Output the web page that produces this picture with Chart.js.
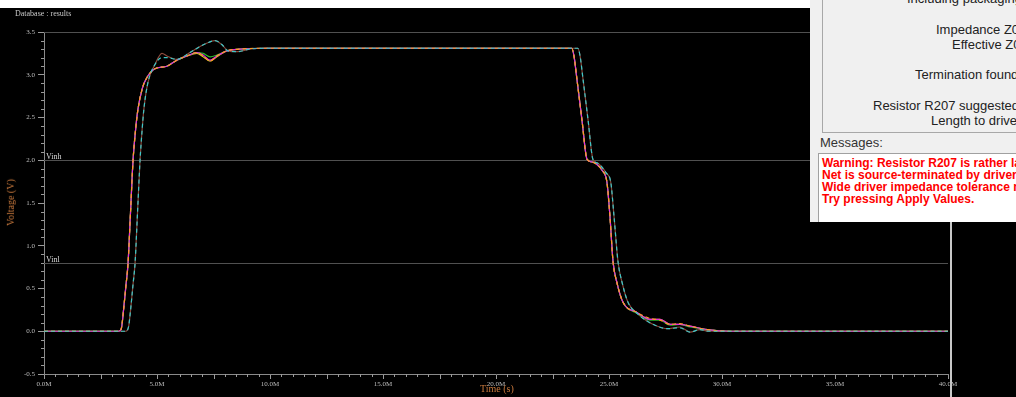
<!DOCTYPE html>
<html>
<head>
<meta charset="utf-8">
<script src="https://cdn.jsdelivr.net/npm/chart.js@4.4.1/dist/chart.umd.min.js"></script>
<style>
  body { margin: 0; background: #000; width: 1016px; height: 397px; overflow: hidden; position: relative; }
  #chart { position: absolute; left: 0; top: 0; }
  .abs { position: absolute; white-space: nowrap; }
  #strip { left: 0; top: 0; width: 810px; height: 8px; background: #fff; }
  #frame { left: 950px; top: 0; width: 2px; height: 397px; background: #c8c8c8; }
  #db { left: 15px; top: 9px; font: 8px "Liberation Serif", serif; color: #c8c8c8; }
  #ttl-x { left: 480px; top: 383px; font: 10px "Liberation Serif", serif; color: #c8783c; }
  #ttl-y { left: -13px; top: 197px; font: 10px "Liberation Serif", serif; color: #c8783c; transform: rotate(-90deg); }
  #dlg { left: 810px; top: 0; width: 206px; height: 222px; background: #f0f0f0; overflow: hidden; font-family: "Liberation Sans", Arial, sans-serif; }
  #grp { left: 12px; top: -10px; width: 220px; height: 141px; border: 1px solid #a8a8a8; }
  .t { position: absolute; white-space: nowrap; font-size: 13px; line-height: 15px; color: #222; }
  #msgbox { left: 8px; top: 153px; width: 220px; height: 80px; background: #fff; border-left: 1px solid #a0a0a0; border-top: 1px solid #a0a0a0; }
  .r { position: absolute; left: 3px; white-space: nowrap; font-size: 12px; line-height: 12px; font-weight: bold; color: #ff0000; }
</style>
</head>
<body>
<div class="abs" id="frame"></div>
<canvas id="chart" width="1016" height="397"></canvas>
<div class="abs" id="strip"></div>
<div class="abs" id="db">Database : results</div>
<div class="abs" id="ttl-x">Time (s)</div>
<div class="abs" id="ttl-y">Voltage (V)</div>
<div class="abs" id="dlg">
  <div class="abs" id="grp"></div>
  <div class="t" style="left:97px; top:-9px;">Including packaging</div>
  <div class="t" style="left:126px; top:22px;">Impedance Z0</div>
  <div class="t" style="left:142px; top:37px;">Effective Z0</div>
  <div class="t" style="left:105px; top:67px;">Termination found</div>
  <div class="t" style="left:63px; top:98px;">Resistor R207 suggested</div>
  <div class="t" style="left:121px; top:113px;">Length to driver</div>
  <div class="t" style="left:10px; top:135px; color:#333;">Messages:</div>
  <div class="abs" id="msgbox">
    <div class="r" style="top:3px;">Warning: Resistor R207 is rather large</div>
    <div class="r" style="top:15px;">Net is source-terminated by driver impedance</div>
    <div class="r" style="top:27px;">Wide driver impedance tolerance may</div>
    <div class="r" style="top:39px;">Try pressing Apply Values.</div>
  </div>
</div>

<script>
// tiempos (M) del grupo que conmuta primero
const earlyTime = [0, 3.30, 3.42, 3.52, 3.62, 3.72, 3.83, 3.94, 4.05, 4.16, 4.36, 4.56, 4.91, 5.44, 5.88, 6.33, 6.77, 7.04, 7.35, 7.65, 8.10, 8.67, 9.87, 12,
  23.35, 23.45, 23.58, 23.80, 24.03, 24.25, 24.47, 24.70, 24.91, 25.04, 25.18, 25.35, 25.62, 26.24, 26.81, 27.26, 27.70, 28.14, 28.58, 29.34, 30.35, 40];
const magentaV = [0, 0, 0.03, 0.25, 0.52, 0.8, 1.4, 2.0, 2.35, 2.6, 2.85, 2.97, 3.07, 3.10, 3.17, 3.22, 3.26, 3.23, 3.17, 3.22, 3.28, 3.30, 3.31, 3.31,
  3.31, 3.22, 2.95, 2.48, 2.01, 1.98, 1.95, 1.88, 1.74, 1.35, 0.81, 0.57, 0.34, 0.22, 0.14, 0.14, 0.08, 0.08, 0.06, 0.02, 0, 0];
const orangeV = [0, 0, 0.03, 0.25, 0.52, 0.8, 1.4, 2.0, 2.35, 2.6, 2.85, 2.97, 3.07, 3.10, 3.17, 3.22, 3.26, 3.22, 3.16, 3.22, 3.28, 3.30, 3.31, 3.31,
  3.31, 3.22, 2.95, 2.48, 2.01, 1.98, 1.95, 1.88, 1.74, 1.35, 0.81, 0.57, 0.34, 0.22, 0.15, 0.13, 0.08, 0.09, 0.06, 0.02, 0, 0];
const greenV = [0, 0, 0.03, 0.25, 0.52, 0.8, 1.4, 2.0, 2.35, 2.6, 2.85, 2.97, 3.07, 3.10, 3.17, 3.22, 3.26, 3.25, 3.21, 3.23, 3.28, 3.30, 3.31, 3.31,
  3.31, 3.22, 2.95, 2.48, 2.01, 1.98, 1.95, 1.88, 1.74, 1.35, 0.81, 0.57, 0.34, 0.21, 0.13, 0.13, 0.07, 0.08, 0.05, 0.02, 0, 0];
const yellowV = [0, 0, 0.03, 0.25, 0.52, 0.8, 1.4, 2.0, 2.35, 2.6, 2.85, 2.97, 3.07, 3.10, 3.17, 3.22, 3.25, 3.21, 3.16, 3.21, 3.28, 3.30, 3.31, 3.31,
  3.31, 3.22, 2.95, 2.48, 2.01, 1.98, 1.95, 1.88, 1.74, 1.35, 0.81, 0.57, 0.34, 0.22, 0.14, 0.14, 0.08, 0.08, 0.06, 0.02, 0, 0];

// tiempos (M) del grupo retrasado
const lateTime = [0, 3.62, 3.74, 3.85, 3.94, 4.03, 4.14, 4.25, 4.34, 4.42, 4.60, 4.91, 5.22, 5.44, 5.88, 6.46, 6.90, 7.30, 7.57, 7.88, 8.14, 8.54, 9.10, 9.87, 12,
  23.62, 23.72, 23.85, 24.07, 24.29, 24.47, 24.65, 24.88, 25.08, 25.22, 25.40, 25.58, 25.84, 26.28, 26.68, 27.04, 27.57, 28.14, 28.58, 29.03, 29.40, 40];
const brownV = [0, 0, 0.05, 0.3, 0.55, 0.8, 1.4, 2.0, 2.35, 2.6, 2.91, 3.12, 3.25, 3.22, 3.18, 3.26, 3.33, 3.38, 3.40, 3.35, 3.28, 3.27, 3.30, 3.31, 3.31,
  3.31, 3.22, 2.95, 2.48, 2.01, 1.97, 1.93, 1.85, 1.74, 1.35, 0.81, 0.57, 0.34, 0.20, 0.12, 0.07, 0.03, 0.05, -0.01, 0.02, 0, 0];
const cyanV = [0, 0, 0.05, 0.3, 0.55, 0.8, 1.4, 2.0, 2.35, 2.6, 2.91, 3.12, 3.20, 3.20, 3.18, 3.26, 3.33, 3.38, 3.40, 3.35, 3.28, 3.27, 3.30, 3.31, 3.31,
  3.31, 3.22, 2.95, 2.48, 2.01, 1.97, 1.93, 1.85, 1.74, 1.35, 0.81, 0.57, 0.34, 0.20, 0.12, 0.07, 0.03, 0.04, -0.01, 0.02, 0, 0];

// niveles de referencia
const refLevels = [2.0, 0.8];
const refNames = ['Vinh', 'Vinl'];

const pts = (ts, vs) => ts.map((t, i) => ({ x: t, y: vs[i] }));

// lineas de referencia y marcas menores
const guias = {
  id: 'guias',
  beforeDatasetsDraw(chart) {
    const ctx = chart.ctx;
    const { left, right } = chart.chartArea;
    const y = chart.scales.y;
    ctx.save();
    ctx.lineWidth = 1;
    ctx.strokeStyle = '#505050';
    const top = Math.round(y.getPixelForValue(y.max)) + 0.5;
    ctx.beginPath(); ctx.moveTo(left, top); ctx.lineTo(right, top); ctx.stroke();
    ctx.font = '8px "Liberation Serif", serif';
    ctx.fillStyle = '#d8d8d8';
    refLevels.forEach((v, i) => {
      const py = Math.round(y.getPixelForValue(v)) + 0.5;
      ctx.beginPath(); ctx.moveTo(left, py); ctx.lineTo(right, py); ctx.stroke();
      ctx.fillText(refNames[i], left + 2, py - 2);
    });
    ctx.restore();
  },
  afterDraw(chart) {
    const ctx = chart.ctx;
    const { left, bottom } = chart.chartArea;
    const x = chart.scales.x, y = chart.scales.y;
    ctx.save();
    ctx.strokeStyle = '#9a9a9a';
    ctx.lineWidth = 1;
    ctx.beginPath();
    for (let k = -5; k <= 35; k++) {
      if (k % 5 === 0) continue;
      const py = Math.round(y.getPixelForValue(k / 10)) + 0.5;
      ctx.moveTo(left - 3, py); ctx.lineTo(left, py);
    }
    for (let k = 1; k < 80; k++) {
      if (k % 10 === 0) continue;
      const px = Math.round(x.getPixelForValue(k / 2)) + 0.5;
      ctx.moveTo(px, bottom); ctx.lineTo(px, bottom + (k % 5 === 0 ? 5 : 3));
    }
    ctx.stroke();
    ctx.restore();
  }
};

const tickFont = { family: 'Liberation Serif', size: 7 };

new Chart(document.getElementById('chart'), {
  type: 'line',
  data: {
    datasets: [
      { data: pts(lateTime, cyanV), borderColor: '#3cc8c8', borderDash: [4, 3] },
      { data: pts(earlyTime, orangeV), borderColor: '#ff9a28', borderDash: [4, 3] },
      { data: pts(earlyTime, magentaV), borderColor: '#e628e6' },
      { data: pts(earlyTime, greenV), borderColor: '#28b428' },
      { data: pts(earlyTime, yellowV), borderColor: '#d0c820' },
      { data: pts(lateTime, brownV), borderColor: '#8c4a3c' }
    ]
  },
  options: {
    responsive: false,
    animation: false,
    devicePixelRatio: 1,
    layout: { padding: { top: 32, right: 68, left: 0, bottom: 0 } },
    plugins: { legend: { display: false }, tooltip: { enabled: false } },
    elements: {
      point: { radius: 0 },
      line: { borderWidth: 1.2, cubicInterpolationMode: 'monotone' }
    },
    scales: {
      x: {
        type: 'linear', min: 0, max: 40,
        afterFit(s) { s.height = 23; },
        border: { color: '#8a8a8a' },
        grid: { drawOnChartArea: false, color: '#9a9a9a', tickLength: 5 },
        ticks: { stepSize: 5, autoSkip: false, maxRotation: 0, color: '#bdbdbd', font: tickFont, padding: 1,
          callback: v => v.toFixed(1) + 'M' }
      },
      y: {
        min: -0.5, max: 3.5,
        afterFit(s) { s.width = 44; },
        border: { color: '#8a8a8a' },
        grid: { drawOnChartArea: false, color: '#9a9a9a', tickLength: 6 },
        ticks: { stepSize: 0.5, color: '#bdbdbd', font: tickFont, padding: 3,
          callback: v => v.toFixed(1) }
      }
    }
  },
  plugins: [guias]
});
</script>
</body>
</html>
